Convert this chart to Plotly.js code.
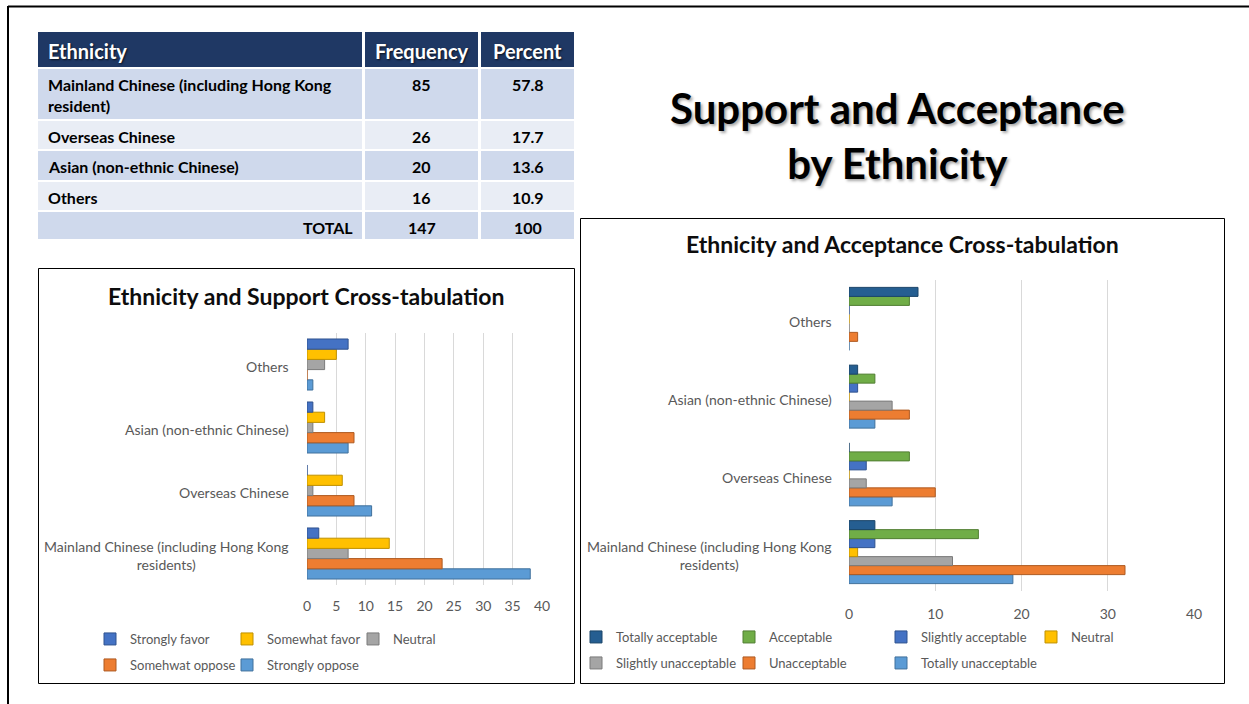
<!DOCTYPE html>
<html>
<head>
<meta charset="utf-8">
<script src="https://cdn.plot.ly/plotly-3.0.1.min.js"></script>
<style>
html,body{margin:0;padding:0;background:#fff;}
#chart{width:1249px;height:704px;}
</style>
</head>
<body>
<div id="chart"></div>
<script>
// ---------- Data ----------
const tableHeader = ["Ethnicity", "Frequency", "Percent"];
const tableEthnicity = ["Mainland Chinese (including Hong Kong<br>resident)", "Overseas Chinese", "Asian (non-ethnic Chinese)", "Others", "TOTAL"];
const tableFrequency = ["85", "26", "20", "16", "147"];
const tablePercent = ["57.8", "17.7", "13.6", "10.9", "100"];

const categories = ["Mainland Chinese (including Hong Kong residents)", "Overseas Chinese", "Asian (non-ethnic Chinese)", "Others"];
const categoryLabels = ["Mainland Chinese (including Hong Kong<br>residents)", "Overseas Chinese", "Asian (non-ethnic Chinese)", "Others"];

// Support (values in the order of categories above)
const supportNames = ["Strongly favor", "Somewhat favor", "Neutral", "Somehwat oppose", "Strongly oppose"];
const stronglyFavor   = [2, 0, 1, 7];
const somewhatFavor   = [14, 6, 3, 5];
const neutralSupport  = [7, 1, 1, 3];
const somewhatOppose  = [23, 8, 8, 0];
const stronglyOppose  = [38, 11, 7, 1];
const supportColors = ["#4472C4", "#FFC000", "#A5A5A5", "#ED7D31", "#5B9BD5"];
const supportEdges  = ["#2F528F", "#BF9000", "#7B7B7B", "#AE5A21", "#41719C"];

// Acceptance
const acceptNames = ["Totally acceptable", "Acceptable", "Slightly acceptable", "Neutral", "Slightly unacceptable", "Unacceptable", "Totally unacceptable"];
const totallyAcceptable    = [3, 0, 1, 8];
const acceptable           = [15, 7, 3, 7];
const slightlyAcceptable   = [3, 2, 1, 0];
const neutralAccept        = [1, 0, 0, 0];
const slightlyUnacceptable = [12, 2, 5, 0];
const unacceptable         = [32, 10, 7, 1];
const totallyUnacceptable  = [19, 5, 3, 0];
const acceptColors = ["#255E91", "#70AD47", "#4472C4", "#FFC000", "#A5A5A5", "#ED7D31", "#5B9BD5"];
const acceptEdges  = ["#1A4468", "#507E32", "#2F528F", "#BF9000", "#7B7B7B", "#AE5A21", "#41719C"];

// ---------- Layout helpers ----------
const W = 1249, H = 704;
const fx = p => p / W;
const fy = p => 1 - p / H;
const FONT = "Lato, 'Open Sans', sans-serif";
const GREY = "#595959";

const supportSeries = [stronglyFavor, somewhatFavor, neutralSupport, somewhatOppose, stronglyOppose];
const acceptSeries = [totallyAcceptable, acceptable, slightlyAcceptable, neutralAccept, slightlyUnacceptable, unacceptable, totallyUnacceptable];

// legend item positions (text start x, centre y) in pixels
const supportLegendPos = [[130, 639], [267, 639], [393, 639], [130, 665], [267, 665]];
const acceptLegendPos = [[616, 637], [769, 637], [921, 637], [1071, 637], [616, 663], [769, 663], [921, 663]];

const traces = [];
const layoutLegends = {};
let legendCount = 0;
function newLegend(pos) {
  legendCount++;
  const key = legendCount === 1 ? "legend" : "legend" + legendCount;
  layoutLegends[key] = {
    orientation: "h", xanchor: "left", yanchor: "middle",
    x: fx(pos[0] - 40), y: fy(pos[1]),
    bgcolor: "rgba(0,0,0,0)", borderwidth: 0,
    font: {family: FONT, size: 13, color: GREY}
  };
  return key;
}

const supportLegendKeys = supportNames.map((n, i) => newLegend(supportLegendPos[i]));
const acceptLegendKeys = acceptNames.map((n, i) => newLegend(acceptLegendPos[i]));

// bars (added in reverse so the first series sits on top of each group)
for (let i = supportNames.length - 1; i >= 0; i--) {
  traces.push({
    type: "bar", orientation: "h",
    name: supportNames[i],
    x: supportSeries[i], y: categories,
    xaxis: "x", yaxis: "y",
    marker: {color: supportColors[i], line: {color: supportEdges[i], width: 1}},
    legend: supportLegendKeys[i],
    hoverinfo: "x+name"
  });
}
for (let i = acceptNames.length - 1; i >= 0; i--) {
  traces.push({
    type: "bar", orientation: "h",
    name: acceptNames[i],
    x: acceptSeries[i], y: categories,
    xaxis: "x2", yaxis: "y2",
    marker: {color: acceptColors[i], line: {color: acceptEdges[i], width: 1}},
    legend: acceptLegendKeys[i],
    hoverinfo: "x+name"
  });
}

const axisX = {
  range: [0, 40], showgrid: true, gridcolor: "#D9D9D9", gridwidth: 1,
  zeroline: false, showline: false, ticks: "",
  tickfont: {family: FONT, size: 14, color: GREY},
  fixedrange: true
};
const axisY = {
  type: "category", categoryorder: "array", categoryarray: categories,
  showticklabels: false, showgrid: false, zeroline: false, showline: false, fixedrange: true
};

const annotations = [];
const shapes = [];

// ---------- Table (cells built from the arrays above) ----------
const colX0 = [38, 365, 481], colX1 = [362, 478, 574];
const rowY0 = [69, 121, 151, 182, 212], rowY1 = [119, 149, 180, 210, 239];
const headY0 = 32, headY1 = 67;
const rowFill = ["#CFD9EC", "#E9EDF5", "#CFD9EC", "#E9EDF5", "#CFD9EC"];
const tableCols = [tableEthnicity, tableFrequency, tablePercent];

tableHeader.forEach((h, c) => {
  shapes.push({type: "rect", xref: "paper", yref: "paper", layer: "below",
    x0: fx(colX0[c]), x1: fx(colX1[c]), y0: fy(headY1), y1: fy(headY0),
    fillcolor: "#1F3864", line: {width: 0}});
  annotations.push({xref: "paper", yref: "paper",
    x: c === 0 ? fx(colX0[c] + 8) : fx((colX0[c] + colX1[c]) / 2),
    xanchor: c === 0 ? "left" : "center",
    y: fy((headY0 + headY1) / 2 + 1), yanchor: "middle",
    text: "<b>" + h + "</b>", showarrow: false,
    font: {family: FONT, size: 20, color: "#FFFFFF", shadow: "1px 1px 2px rgba(0,0,0,0.7)"}});
});
tableEthnicity.forEach((r, k) => {
  tableCols.forEach((col, c) => {
    shapes.push({type: "rect", xref: "paper", yref: "paper", layer: "below",
      x0: fx(colX0[c]), x1: fx(colX1[c]), y0: fy(rowY1[k]), y1: fy(rowY0[k]),
      fillcolor: rowFill[k], line: {width: 0}});
    let xa, xanc;
    if (c === 0 && k === tableEthnicity.length - 1) { xa = fx(colX1[c] - 7); xanc = "right"; }
    else if (c === 0) { xa = fx(colX0[c] + 8); xanc = "left"; }
    else { xa = fx((colX0[c] + colX1[c]) / 2); xanc = "center"; }
    annotations.push({xref: "paper", yref: "paper", x: xa, xanchor: xanc,
      y: fy(rowY0[k] + 4), yanchor: "top", align: "left",
      text: "<b>" + col[k] + "</b>", showarrow: false,
      font: {family: FONT, size: 16, color: "#000000"}});
  });
});

// ---------- Titles ----------
annotations.push({
  xref: "paper", yref: "paper", x: fx(897), y: fy(135), xanchor: "center", yanchor: "middle",
  text: "<b>Support and Acceptance<br>by Ethnicity</b>", showarrow: false, align: "center",
  font: {family: FONT, size: 42, color: "#000000", shadow: "2px 2px 3px rgba(0,0,0,0.35)"}
});
annotations.push({
  xref: "paper", yref: "paper", x: fx(306), y: fy(296), xanchor: "center", yanchor: "middle",
  text: "<b>Ethnicity and Support Cross-tabulation</b>", showarrow: false,
  font: {family: FONT, size: 23, color: "#0D0D0D"}
});
annotations.push({
  xref: "paper", yref: "paper", x: fx(902), y: fy(244), xanchor: "center", yanchor: "middle",
  text: "<b>Ethnicity and Acceptance Cross-tabulation</b>", showarrow: false,
  font: {family: FONT, size: 23, color: "#0D0D0D"}
});
// category labels (centre-aligned multi-line, like the original)
categories.forEach((c, k) => {
  annotations.push({xref: "paper", yref: "y", x: fx(291), y: c, xanchor: "right", yanchor: "middle", yshift: -2,
    text: categoryLabels[k], showarrow: false, align: "center", font: {family: FONT, size: 14, color: GREY}});
  annotations.push({xref: "paper", yref: "y2", x: fx(834), y: c, xanchor: "right", yanchor: "middle", yshift: -3,
    text: categoryLabels[k], showarrow: false, align: "center", font: {family: FONT, size: 14, color: GREY}});
});

// frames
shapes.push(
  {type: "line", xref: "paper", yref: "paper", x0: fx(8), x1: fx(1249), y0: fy(6.5), y1: fy(6.5), line: {color: "#000", width: 2}},
  {type: "line", xref: "paper", yref: "paper", x0: fx(8), x1: fx(8), y0: fy(6), y1: fy(704), line: {color: "#000", width: 2}},
  {type: "rect", xref: "paper", yref: "paper", x0: fx(38.5), x1: fx(574.5), y0: fy(268.5), y1: fy(683.5), line: {color: "#000", width: 1}},
  {type: "rect", xref: "paper", yref: "paper", x0: fx(580.5), x1: fx(1224.5), y0: fy(218.5), y1: fy(683.5), line: {color: "#000", width: 1}}
);

const layout = Object.assign({
  width: W, height: H,
  margin: {l: 0, r: 0, t: 0, b: 0},
  paper_bgcolor: "#FFFFFF", plot_bgcolor: "rgba(0,0,0,0)",
  font: {family: FONT, color: GREY},
  barmode: "group", bargap: 0.19, bargroupgap: 0,
  xaxis: Object.assign({}, axisX, {domain: [fx(307), fx(542)], anchor: "y", dtick: 5, ticklabelstandoff: 11}),
  yaxis: Object.assign({}, axisY, {domain: [fy(585), fy(333)], anchor: "x"}),
  xaxis2: Object.assign({}, axisX, {domain: [fx(849), fx(1194)], anchor: "y2", dtick: 10, ticklabelstandoff: 13}),
  yaxis2: Object.assign({}, axisY, {domain: [fy(591), fy(280)], anchor: "x2"}),
  showlegend: true,
  annotations: annotations,
  shapes: shapes
}, layoutLegends);

Plotly.newPlot("chart", traces, layout, {displayModeBar: false, staticPlot: true});
</script>
</body>
</html>
